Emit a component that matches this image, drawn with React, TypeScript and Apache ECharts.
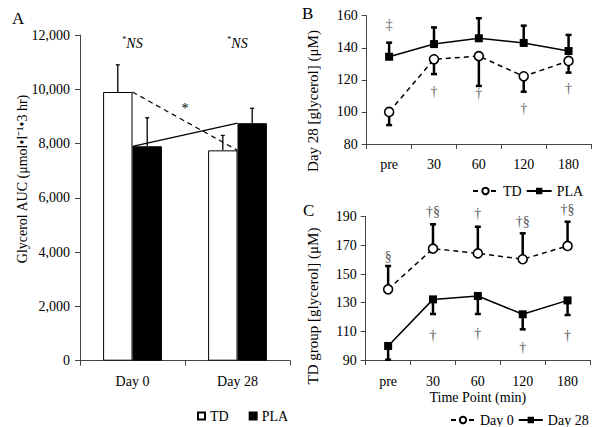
import React, { useEffect, useRef } from "react";
import * as echarts from "echarts";

// ---------- Panel A data ----------
const aCategories = ["Day 0", "Day 28"];
const aTD = [9900, 7750];
const aTDsd = [1000, 550];
const aPLA = [7900, 8750];
const aPLAsd = [1050, 550];
const aYTicks = [0, 2000, 4000, 6000, 8000, 10000, 12000];
// annotations: [categoryPosition, value, text]
const aNotes: [number, number, string][] = [
  [0, 11700, "NS"],
  [1, 11700, "NS"],
  [0.5, 9300, "*"],
];

// ---------- Panel B data ----------
const timeCats = ["pre", "30", "60", "120", "180"];
const bTD = [100, 132.8, 134.8, 122.2, 131.8];
const bTDsd = [8.2, 9.2, 18.6, 9.6, 7.3];
const bPLA = [134.4, 142.3, 145.9, 143, 138];
const bPLAsd = [8.8, 10.4, 12.5, 10.8, 10];
const bNotes: [number, number, string][] = [
  [0, 154.5, "‡"],
  [1, 112.6, "†"],
  [2, 111.2, "†"],
  [3, 102.3, "†"],
  [4, 114.7, "†"],
];

// ---------- Panel C data ----------
const cDay0 = [139.3, 167.7, 164.4, 160.3, 169.6];
const cDay0sd = [16.3, 17, 18.6, 18.1, 16.9];
const cDay28 = [99.8, 132.3, 134.7, 121.9, 131.6];
const cDay28sd = [9.6, 10.2, 12.6, 10.5, 10.2];
const cYTicks = [90, 110, 130, 150, 170, 190];
const cNotes: [number, number, string][] = [
  [0, 162, "§"],
  [1, 193.5, "†§"],
  [2, 192.4, "†"],
  [3, 186.5, "†§"],
  [4, 194.7, "†§"],
  [1, 107.4, "†"],
  [2, 108.6, "†"],
  [3, 98.6, "†"],
  [4, 107.4, "†"],
];

const FONT = "'Liberation Serif', 'Times New Roman', serif";
const AX = "#444";

function errorBars(
  gridIdx: number,
  values: number[],
  sds: number[],
  dir: number,
  offsetFrac: number,
  capHalf: number,
  lineWidth: number
) {
  return {
    type: "custom",
    xAxisIndex: gridIdx,
    yAxisIndex: gridIdx,
    silent: true,
    encode: { x: 0, y: 1 },
    data: values.map((v, i) => [i, v, v + dir * sds[i]]),
    renderItem: (params: any, api: any) => {
      const i = api.value(0);
      const base = api.coord([i, api.value(1)]);
      const end = api.coord([i, api.value(2)]);
      const band = api.size([1, 0])[0];
      const x = base[0] + offsetFrac * band;
      return {
        type: "group",
        children: [
          {
            type: "line",
            shape: { x1: x, y1: base[1], x2: x, y2: end[1] },
            style: { stroke: "#000", lineWidth },
          },
          {
            type: "line",
            shape: { x1: x - capHalf, y1: end[1], x2: x + capHalf, y2: end[1] },
            style: { stroke: "#000", lineWidth },
          },
        ],
      };
    },
  };
}

function notes(gridIdx: number, list: [number, number, string][], color: string, ns: boolean) {
  return {
    type: "custom",
    xAxisIndex: gridIdx,
    yAxisIndex: gridIdx,
    silent: true,
    clip: false,
    encode: { x: 0, y: 1 },
    itemStyle: { color },
    data: list.map((d) => [Math.floor(d[0]), d[1]]),
    renderItem: (params: any, api: any) => {
      const d = list[params.dataIndex];
      const lo = Math.floor(d[0]);
      const hi = Math.ceil(d[0]);
      const a = api.coord([lo, d[1]]);
      const b = api.coord([hi, d[1]]);
      const x = a[0] + (b[0] - a[0]) * (d[0] - lo);
      const isNS = ns && d[2] === "NS";
      return {
        type: "text",
        x,
        y: a[1],
        style: isNS
          ? {
              text: "{s|*}{i|NS}",
              align: "center",
              verticalAlign: "middle",
              rich: {
                s: { fontSize: 8, fontFamily: FONT, fill: "#000", verticalAlign: "top", lineHeight: 16 },
                i: { fontSize: 14, fontStyle: "italic", fontFamily: FONT, fill: "#000", lineHeight: 16 },
              },
            }
          : {
              text: "{t|" + d[2] + "}",
              align: "center",
              verticalAlign: "middle",
              rich: {
                t: { fontSize: 14, fontFamily: FONT, fill: color, lineHeight: 16 },
              },
            },
      };
    },
  };
}

const catAxis = (gridIndex: number, data: string[], extra: any = {}) => ({
  type: "category",
  gridIndex,
  data,
  boundaryGap: true,
  axisLine: { lineStyle: { color: AX, width: 1 } },
  axisTick: { show: true, length: 5, alignWithLabel: false, lineStyle: { color: AX } },
  axisLabel: { color: "#000", fontSize: 14, fontFamily: FONT, margin: 14 },
  splitLine: { show: false },
  ...extra,
});

const valAxis = (gridIndex: number, extra: any) => ({
  type: "value",
  gridIndex,
  axisLine: { show: true, lineStyle: { color: AX, width: 1 } },
  axisTick: { show: true, length: 5, lineStyle: { color: AX } },
  splitLine: { show: false },
  ...extra,
});

const legendText = { color: "#000", fontSize: 14, fontFamily: FONT };

export default function App() {
  const ref = useRef<HTMLDivElement>(null);
  useEffect(() => {
    document.body.style.margin = "0";
    const chart = echarts.init(ref.current!, null, { renderer: "svg" });
    const labelStyle = { color: "#000", fontSize: 14, fontFamily: FONT, margin: 10 };
    chart.setOption({
      animation: false,
      backgroundColor: "#fff",
      textStyle: { fontFamily: FONT },
      grid: [
        { left: 80, top: 35, width: 210, height: 325.7 },
        { left: 366.7, top: 15.7, width: 224.3, height: 128.3 },
        { left: 365.7, top: 216.7, width: 224.3, height: 143.3 },
      ],
      xAxis: [
        catAxis(0, aCategories),
        catAxis(1, timeCats, { axisLabel: { color: "#000", fontSize: 14, fontFamily: FONT, margin: 13 } }),
        catAxis(2, timeCats, {
          name: "Time Point (min)",
          nameLocation: "middle",
          nameGap: 30,
          nameTextStyle: { color: "#000", fontSize: 14, fontFamily: FONT },
        }),
      ],
      yAxis: [
        valAxis(0, {
          min: aYTicks[0],
          max: aYTicks[aYTicks.length - 1],
          interval: 2000,
          axisLabel: { ...labelStyle, formatter: (v: number) => v.toLocaleString("en-US") },
        }),
        valAxis(1, { min: 80, max: 160, interval: 20, axisLabel: { ...labelStyle, margin: 9 } }),
        valAxis(2, {
          min: cYTicks[0],
          max: cYTicks[cYTicks.length - 1],
          axisTick: { show: true, length: 5, lineStyle: { color: AX }, customValues: cYTicks },
          axisLabel: { ...labelStyle, margin: 9, customValues: cYTicks },
        }),
      ],
      legend: [
        {
          data: ["TD", "PLA"],
          left: 197,
          top: 409,
          padding: 0,
          icon: "rect",
          itemWidth: 7,
          itemHeight: 7,
          itemGap: 20,
          selectedMode: false,
          textStyle: legendText,
        },
        {
          data: ["B:TD", "B:PLA"],
          formatter: (n: string) => n.slice(2),
          left: 472,
          top: 184,
          padding: 0,
          itemWidth: 25,
          itemHeight: 8,
          itemGap: 4,
          selectedMode: false,
          textStyle: legendText,
        },
        {
          data: ["C:Day 0", "C:Day 28"],
          formatter: (n: string) => n.slice(2),
          left: 450,
          top: 413,
          padding: 0,
          width: 150,
          itemWidth: 24,
          itemHeight: 8,
          itemGap: 4,
          selectedMode: false,
          textStyle: legendText,
        },
      ],
      graphic: [
        { type: "text", left: 12, top: 10, style: { text: "A", fontSize: 17, fontFamily: FONT, fill: "#000" } },
        { type: "text", left: 302, top: 5, style: { text: "B", fontSize: 17, fontFamily: FONT, fill: "#000" } },
        { type: "text", left: 303, top: 202, style: { text: "C", fontSize: 17, fontFamily: FONT, fill: "#000" } },
        {
          type: "text",
          x: 22,
          y: 179,
          rotation: Math.PI / 2,
          style: {
            text: "Glycerol AUC (μmol•l⁻¹•3 hr)",
            fontSize: 14,
            fontFamily: FONT,
            fill: "#000",
            align: "center",
            verticalAlign: "middle",
          },
        },
        {
          type: "text",
          x: 313,
          y: 101,
          rotation: Math.PI / 2,
          style: {
            text: "Day 28 [glycerol] (μM)",
            fontSize: 15,
            fontFamily: FONT,
            fill: "#000",
            align: "center",
            verticalAlign: "middle",
          },
        },
        {
          type: "text",
          x: 313,
          y: 306,
          rotation: Math.PI / 2,
          style: {
            text: "TD group [glycerol] (μM)",
            fontSize: 15,
            fontFamily: FONT,
            fill: "#000",
            align: "center",
            verticalAlign: "middle",
          },
        },
      ],
      series: [
        // Panel A
        {
          name: "TD",
          type: "bar",
          xAxisIndex: 0,
          yAxisIndex: 0,
          data: aTD,
          barGap: "0%",
          barCategoryGap: "44%",
          itemStyle: { color: "#fff", borderColor: "#000", borderWidth: 1 },
        },
        {
          name: "PLA",
          type: "bar",
          xAxisIndex: 0,
          yAxisIndex: 0,
          data: aPLA,
          itemStyle: { color: "#000", borderColor: "#000", borderWidth: 1 },
        },
        errorBars(0, aTD, aTDsd, 1, -0.14, 2, 1.3),
        errorBars(0, aPLA, aPLAsd, 1, 0.14, 2, 1.3),
        {
          name: "A:TD-line",
          type: "line",
          xAxisIndex: 0,
          yAxisIndex: 0,
          data: aTD,
          symbol: "none",
          z: 5,
          lineStyle: { color: "#000", width: 1.2, type: [5, 4] },
        },
        {
          name: "A:PLA-line",
          type: "line",
          xAxisIndex: 0,
          yAxisIndex: 0,
          data: aPLA,
          symbol: "none",
          z: 5,
          lineStyle: { color: "#000", width: 1.3 },
        },
        notes(0, aNotes, "#000", true),
        // Panel B
        errorBars(1, bTD, bTDsd, -1, 0, 3, 2.5),
        errorBars(1, bPLA, bPLAsd, 1, 0, 3, 2.5),
        {
          name: "B:TD",
          type: "line",
          xAxisIndex: 1,
          yAxisIndex: 1,
          data: bTD,
          symbol: "circle",
          symbolSize: 9,
          z: 5,
          lineStyle: { color: "#000", width: 1.5, type: [5, 4] },
          itemStyle: { color: "#fff", borderColor: "#000", borderWidth: 1.6 },
        },
        {
          name: "B:PLA",
          type: "line",
          xAxisIndex: 1,
          yAxisIndex: 1,
          data: bPLA,
          symbol: "rect",
          symbolSize: 8,
          z: 5,
          lineStyle: { color: "#000", width: 1.5 },
          itemStyle: { color: "#000" },
        },
        notes(1, bNotes, "#666", false),
        // Panel C
        errorBars(2, cDay0, cDay0sd, 1, 0, 3, 2.5),
        errorBars(2, cDay28, cDay28sd, -1, 0, 3, 2.5),
        {
          name: "C:Day 0",
          type: "line",
          xAxisIndex: 2,
          yAxisIndex: 2,
          data: cDay0,
          symbol: "circle",
          symbolSize: 9,
          z: 5,
          lineStyle: { color: "#000", width: 1.5, type: [5, 4] },
          itemStyle: { color: "#fff", borderColor: "#000", borderWidth: 1.6 },
        },
        {
          name: "C:Day 28",
          type: "line",
          xAxisIndex: 2,
          yAxisIndex: 2,
          data: cDay28,
          symbol: "rect",
          symbolSize: 8,
          z: 5,
          lineStyle: { color: "#000", width: 1.5 },
          itemStyle: { color: "#000" },
        },
        notes(2, cNotes, "#555", false),
      ],
    });
    return () => chart.dispose();
  }, []);
  return <div ref={ref} style={{ width: 600, height: 427 }} />;
}
